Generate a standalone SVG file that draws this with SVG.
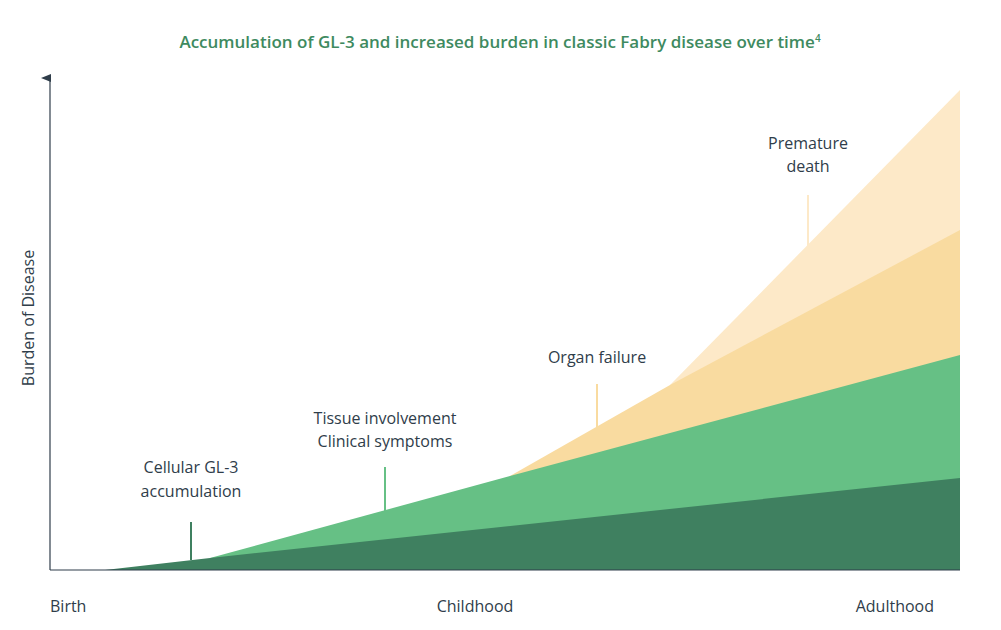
<svg xmlns="http://www.w3.org/2000/svg" width="1001" height="630" viewBox="0 0 1001 630">
<style>
text{font-family:"Open Sans","Liberation Sans",sans-serif;fill:#2f3d4a;font-size:16px}
.t{fill:#3e8a60;font-weight:600;font-size:17px}
.ax{stroke:#2f3d4a;stroke-width:1.2;fill:none}
</style>
<defs><marker id="ar" markerWidth="8" markerHeight="10" refX="4" refY="9" orient="auto-start-reverse" markerUnits="userSpaceOnUse"><path d="M0,10 L4,0 L8,10 Z" fill="#2f3d4a"/></marker></defs>
<rect width="1001" height="630" fill="#fff"/>
<text class="t" x="500" y="48" text-anchor="middle">Accumulation of GL-3 and increased burden in classic Fabry disease over time<tspan font-size="10" dy="-6">4</tspan></text>
<g id="areas">
<polygon id="pale" points="670,385 960,90 960,570 670,570" fill="#fde9c8"/>
<polygon id="orange" points="510,476 670,385 960,230 960,570 510,570" fill="#f9dba0"/>
<polygon id="green" points="210,558 510,476 960,355 960,570 210,570" fill="#66c085"/>
<polygon id="dark" points="105,570 210,558 960,478 960,570" fill="#3f8060"/>
</g>
<g id="connectors">
<line x1="50" y1="570" x2="50" y2="78" class="ax" marker-end="url(#ar)"/>
<line x1="50" y1="570" x2="960" y2="570" class="ax"/>
<line x1="191" y1="522" x2="191" y2="560" stroke="#3f8060" stroke-width="2"/>
<line x1="385" y1="467" x2="385" y2="512" stroke="#66c085" stroke-width="2"/>
<line x1="597" y1="384" x2="597" y2="430" stroke="#f9dba0" stroke-width="2"/>
<line x1="808" y1="195" x2="808" y2="248" stroke="#fde9c8" stroke-width="2"/>
</g>
<g id="labels">
<text x="191" y="473" text-anchor="middle">Cellular GL-3</text>
<text x="191" y="497" text-anchor="middle">accumulation</text>
<text x="385" y="424" text-anchor="middle">Tissue involvement</text>
<text x="385" y="447" text-anchor="middle">Clinical symptoms</text>
<text x="597" y="363" text-anchor="middle">Organ failure</text>
<text x="808" y="149" text-anchor="middle">Premature</text>
<text x="808" y="172" text-anchor="middle">death</text>
<text x="50" y="612">Birth</text>
<text x="475" y="612" text-anchor="middle">Childhood</text>
<text x="934" y="612" text-anchor="end">Adulthood</text>
<text transform="translate(34,318) rotate(-90)" text-anchor="middle">Burden of Disease</text>
</g>
</svg>
